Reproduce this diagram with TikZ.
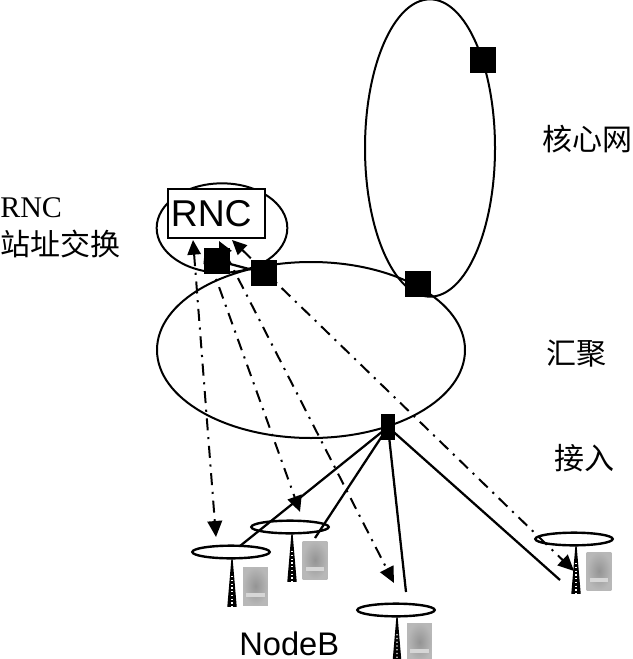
\documentclass[tikz,border=0pt]{standalone}
\usepackage{fontspec}
\setmainfont{Liberation Serif}
\setsansfont{Liberation Sans}
\newfontfamily\cjk{Noto Sans CJK SC}
\usetikzlibrary{arrows.meta,shapes.geometric,calc}

\begin{document}
\begin{tikzpicture}[
    x=0.75pt, y=-0.75pt,
    ring/.style={ellipse, draw, line width=1.5pt, inner sep=0pt},
    sw/.style={rectangle, fill=black, inner sep=0pt, minimum size=19.5pt},
    disc/.style={ellipse, draw, line width=1.8pt, inner sep=0pt, minimum width=58pt, minimum height=9.5pt},
    mast/.style={isosceles triangle, isosceles triangle apex angle=9, isosceles triangle stretches, shape border rotate=90, draw, line width=1pt, fill=black, inner sep=0pt, minimum height=35pt, minimum width=6pt},
    lattice/.style={white, line width=1.1pt, dash pattern=on 1pt off 1.8pt},
    cab/.style={rectangle, inner sep=0pt, minimum width=18.5pt, minimum height=28.5pt, inner color=black!42, outer color=black!28},
    band/.style={rectangle, inner sep=0pt, minimum width=14pt, minimum height=3pt, fill=black!16},
    lab/.style={font=\fontsize{22.5pt}{26pt}\cjk, inner sep=0pt},
    arr/.style={line width=1.7pt},
    dd/.style={line width=1.5pt, dash pattern=on 9pt off 5pt on 1.6pt off 5pt, {Triangle[length=11pt,width=10pt]}-{Triangle[length=12pt,width=11pt]}},
]
\useasboundingbox (0,0) rectangle (632,659);

% rings
\node[ring, minimum width=97.5pt, minimum height=223pt] (core) at (430,148) {};
\node[ring, minimum width=231pt, minimum height=132pt] (agg) at (311,350) {};
\node[ring, minimum width=98pt, minimum height=67pt] (rncring) at (222,228) {};
\node[draw, line width=1.4pt, fill=white, text width=68.5pt, inner xsep=2pt, minimum height=36.5pt, inner ysep=0pt, align=left, font=\fontsize{28pt}{30pt}\sffamily] (rnc) at (216.5,213.5) {RNC};

% base stations
\node[disc] (b1) at (231,552) {};
\node[disc] (b2) at (290,527) {};
\node[disc] (b3) at (396,610) {};
\node[disc] (b4) at (574,539) {};
\node[mast, anchor=apex] (t1) at (232,551) {};
\node[mast, anchor=apex] (t2) at (292,526) {};
\node[mast, anchor=apex] (t3) at (397,609) {};
\node[mast, anchor=apex] (t4) at (576,538) {};
\node[cab] (c1) at (255.5,586) {};
\node[cab] (c2) at (315,560) {};
\node[cab] (c3) at (419.5,642) {};
\node[cab] (c4) at (599,571) {};
\node[band] (g1) at ($(c1.south)+(0,-10)$) {};
\node[band] (g2) at ($(c2.south)+(0,-10)$) {};
\node[band] (g3) at ($(c3.south)+(0,-10)$) {};
\node[band] (g4) at ($(c4.south)+(0,-10)$) {};

\draw[lattice] ($(t1.apex)!0.45!(t1.lower side)$) -- (t1.lower side);
\draw[lattice] ($(t2.apex)!0.45!(t2.lower side)$) -- (t2.lower side);
\draw[lattice] ($(t3.apex)!0.45!(t3.lower side)$) -- (t3.lower side);
\draw[lattice] ($(t4.apex)!0.45!(t4.lower side)$) -- (t4.lower side);

% switches
\node[sw] (s1) at (483,60) {};
\node[sw] (s2) at (418,284) {};
\node[sw] (s3) at (264,273) {};
\node[sw] (s4) at (217,260.5) {};
\node[sw, minimum width=10pt, minimum height=19.5pt] (s5) at (388,427) {};

% free ends
\coordinate (e1) at (240,546);
\coordinate (e2) at (315,538);
\coordinate (e3) at (406,592);
\coordinate (e4) at (560,580);
\coordinate (a1) at (193,240);
\coordinate (a2) at (205,248);
\coordinate (a3) at (219,241);
\coordinate (a4) at (232,240);
\coordinate (z1) at (216,537);
\coordinate (z2) at (300,512);
\coordinate (z3) at (394,583);
\coordinate (z4) at (574,571);

\draw[arr] (s4) -- (s3);
\draw[arr] (s5.center) -- (e1);
\draw[arr] (s5.center) -- (e2);
\draw[arr] (s5.center) -- (e3);
\draw[arr] (s5.center) -- (e4);

\draw[dd] (a1) -- (z1);
\draw[dd] (a2) -- (z2);
\draw[dd] (a3) -- (z3);
\draw[dd] (a4) -- (z4);

% labels
\node[anchor=base west, inner sep=0pt, font=\fontsize{22.5pt}{26pt}\selectfont] (lrnc) at (0,218) {RNC};
\node[lab, anchor=west] (lsw) at (0,244) {站址交换};
\node[lab, anchor=west] (lcore) at (542,139) {核心网};
\node[lab, anchor=west] (lagg) at (546,354) {汇聚};
\node[lab, anchor=west] (lacc) at (554,458) {接入};
\node[anchor=base west, inner sep=0pt, font=\fontsize{24.5pt}{28pt}\sffamily] (lnb) at (239,655) {NodeB};
\end{tikzpicture}
\end{document}
